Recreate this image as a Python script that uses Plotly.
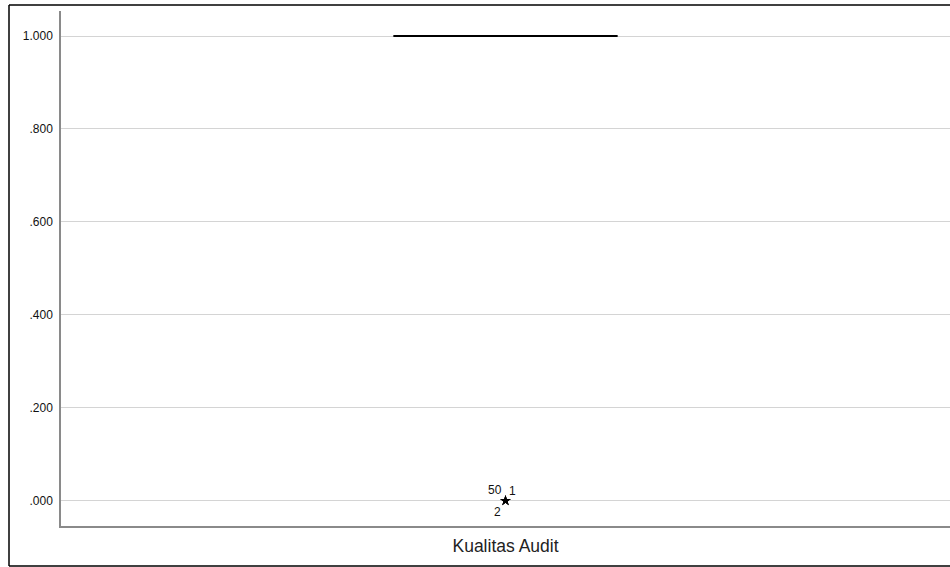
import plotly.graph_objects as go

# ---- data ----
category = "Kualitas Audit"
n_cases = 50
outlier_cases = [50, 1, 2]          # case labels of extreme values
outlier_value = 0.0
regular_value = 1.0
values = [outlier_value] * len(outlier_cases) + [regular_value] * (n_cases - len(outlier_cases))
y_tickvals = [0.0, 0.2, 0.4, 0.6, 0.8, 1.0]
y_ticktext = [".000", ".200", ".400", ".600", ".800", "1.000"]

W, H = 950, 567
ML, MR, MT, MB = 61, 0, 11, 41

fig = go.Figure()
fig.add_trace(go.Box(
    x=[category] * len(values),
    y=values,
    boxpoints="outliers",
    jitter=0,
    pointpos=0,
    width=0.2523,
    fillcolor="white",
    line=dict(color="black", width=2),
    marker=dict(symbol="star", size=8, color="black",
                outliercolor="black", line=dict(width=0)),
    whiskerwidth=0,
    showlegend=False,
    hoverinfo="skip",
))

# case labels for the extreme values
offsets = {50: (-11, 11), 1: (7, 10), 2: (-8, -11)}
for c in outlier_cases:
    dx, dy = offsets[c]
    fig.add_annotation(x=category, y=outlier_value, text=str(c), showarrow=False,
                       xshift=dx, yshift=dy,
                       font=dict(family="Arial, Liberation Sans", size=12, color="#111"))

# outer frame (left, top, bottom edges; right edge is off-page)
pw = W - ML - MR
ph = H - MT - MB
fx0 = (9 - ML) / pw
fx1 = 1.05
fy0 = -(566 - (H - MB)) / ph
fy1 = 1 + (MT - 5) / ph
frame = dict(color="black", width=1.5)
for x0, y0, x1, y1 in [(fx0, fy0, fx0, fy1), (fx0, fy1, fx1, fy1), (fx0, fy0, fx1, fy0)]:
    fig.add_shape(type="line", xref="paper", yref="paper",
                  x0=x0, y0=y0, x1=x1, y1=y1, line=frame, layer="above")

fig.update_layout(
    width=W, height=H,
    margin=dict(l=ML, r=MR, t=MT, b=MB),
    paper_bgcolor="white", plot_bgcolor="white",
    font=dict(family="Arial, Liberation Sans", color="#111"),
    xaxis=dict(range=[-0.5, 0.5], showgrid=False, showline=True, linecolor="#8a8a8a",
               linewidth=1.5, ticks="", tickfont=dict(size=17.5, color="#222"),
               ticklabelstandoff=3, zeroline=False, fixedrange=True),
    yaxis=dict(range=[-0.0544, 1.0538], tickvals=y_tickvals, ticktext=y_ticktext,
               showgrid=True, gridcolor="#d4d4d4", gridwidth=1,
               showline=True, linecolor="#8a8a8a", linewidth=1.5, ticks="",
               tickfont=dict(size=12, color="#111"), ticklabelstandoff=4,
               zeroline=False, fixedrange=True),
)

fig.write_html("out.html", config={"displayModeBar": False},
               post_script="document.body.style.margin='0';document.body.style.padding='0';")
